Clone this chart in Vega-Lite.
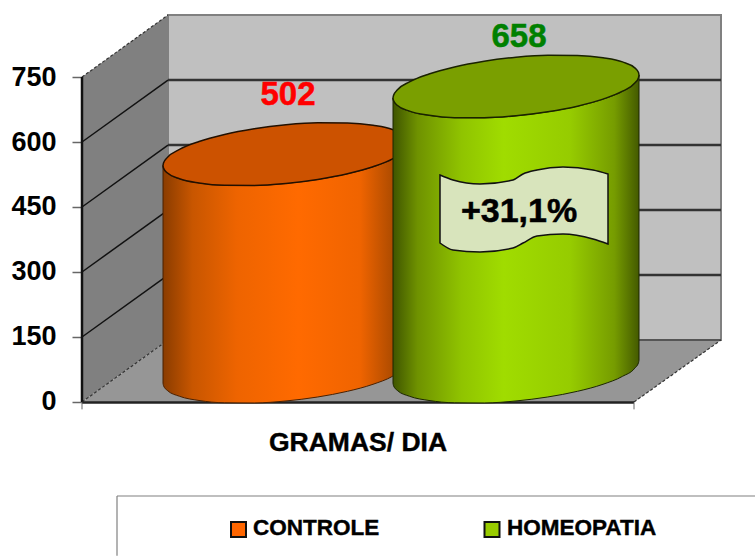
{"$schema":"https://vega.github.io/schema/vega-lite/v6.json","width":673,"height":556,"autosize":{"type":"none"},"padding":{"left":82,"top":0,"right":0,"bottom":0},"background":"white","config":{"view":{"stroke":null},"axis":{"grid":false}},
"datasets":{
"controle":[{"x":163,"up":545.5,"low":545.5,"bot":43.5},{"x":163.5,"up":551.5,"low":539.7,"bot":37.7},{"x":167.2,"up":563.9,"low":528.9,"bot":26.9},{"x":179.5,"up":582.8,"low":515.2,"bot":13.2},{"x":199,"up":601.1,"low":505.5,"bot":3.5},{"x":224.5,"up":617.3,"low":500.2,"bot":-1.8},{"x":254.2,"up":630.4,"low":499.8,"bot":-2.2},{"x":286,"up":639.6,"low":504.4,"bot":2.4},{"x":317.8,"up":644.2,"low":513.6,"bot":11.6},{"x":347.5,"up":643.8,"low":526.7,"bot":24.7},{"x":373,"up":638.5,"low":542.9,"bot":40.9},{"x":392.5,"up":628.8,"low":561.2,"bot":59.2},{"x":404.8,"up":615.1,"low":580.1,"bot":78.1},{"x":408.5,"up":604.3,"low":592.5,"bot":90.5},{"x":409,"up":598.5,"low":598.5,"bot":96.5}],
"homeopatia":[{"x":393,"up":701.5,"low":701.5,"bot":43.5},{"x":393.5,"up":707.5,"low":695.7,"bot":37.7},{"x":397.2,"up":719.9,"low":684.9,"bot":26.9},{"x":409.5,"up":738.8,"low":671.2,"bot":13.2},{"x":429,"up":757.1,"low":661.5,"bot":3.5},{"x":454.5,"up":773.3,"low":656.2,"bot":-1.8},{"x":484.2,"up":786.4,"low":655.8,"bot":-2.2},{"x":516,"up":795.6,"low":660.4,"bot":2.4},{"x":547.8,"up":800.2,"low":669.6,"bot":11.6},{"x":577.5,"up":799.8,"low":682.7,"bot":24.7},{"x":603,"up":794.5,"low":698.9,"bot":40.9},{"x":622.5,"up":784.8,"low":717.2,"bot":59.2},{"x":634.8,"up":771.1,"low":736.1,"bot":78.1},{"x":638.5,"up":760.3,"low":748.5,"bot":90.5},{"x":639,"up":754.5,"low":754.5,"bot":96.5}],
"banner":[{"x":440,"up":523.8,"low":366.9},{"x":453,"up":512.3,"low":350.8},{"x":480,"up":503.1,"low":346.2},{"x":513,"up":512.3,"low":355.4},{"x":523,"up":526.2,"low":366.9},{"x":537,"up":535.4,"low":383.1},{"x":563,"up":542.3,"low":387.7},{"x":593,"up":535.4,"low":376.2},{"x":608,"up":526.2,"low":364.6}],
"diag":[{"g":"a","x":82,"v":150},{"g":"a","x":168,"v":293},{"g":"b","x":82,"v":300},{"g":"b","x":168,"v":443},{"g":"c","x":82,"v":450},{"g":"c","x":168,"v":593},{"g":"d","x":82,"v":600},{"g":"d","x":168,"v":743}],
"edges":[{"g":"a","x":82,"v":0},{"g":"a","x":168,"v":143},{"g":"b","x":82,"v":750},{"g":"b","x":168,"v":893},{"g":"c","x":634,"v":0},{"g":"c","x":721,"v":143}],
"back":[{"g":"a","x":168,"v":293},{"g":"a","x":721,"v":293},{"g":"b","x":168,"v":443},{"g":"b","x":721,"v":443},{"g":"c","x":168,"v":593},{"g":"c","x":721,"v":593},{"g":"d","x":168,"v":743},{"g":"d","x":721,"v":743}],
"backfloor":[{"g":"f","x":168,"v":143},{"g":"f","x":721,"v":143}],
"floor":[{"x":82,"v":0,"v2":0},{"x":168,"v":143,"v2":0},{"x":634,"v":143,"v2":0},{"x":721,"v":143,"v2":143}],
"leftwall":[{"x":82,"v":0,"v2":750},{"x":168,"v":143,"v2":893}],
"wall":[{"x":168,"x2":721,"v":143,"v2":893}],
"frame":[{"g":"top","i":1,"x":117,"v":-216.9},{"g":"top","i":2,"x":755,"v":-216.9},{"g":"left","i":1,"x":117,"v":-216.9},{"g":"left","i":2,"x":117,"v":-355}],
"axisline":[{"g":"y","x":82,"v":0},{"g":"y","x":82,"v":750}],
"baseline":[{"g":"b","x":82,"v":-1},{"g":"b","x":634,"v":-1}],
"xticks":[{"g":"l","x":82,"v":-1},{"g":"l","x":82,"v":-17},{"g":"r","x":634,"v":-1},{"g":"r","x":634,"v":-17}],
"swatch":[{"x":231,"x2":246,"v":-276.9,"v2":-311.5,"c":"#ff6600"},{"x":484.5,"x2":499.5,"v":-276.9,"v2":-311.5,"c":"#99cc00"}]
},
"encoding":{"x":{"field":"x","type":"quantitative","scale":{"domain":[82,755],"nice":false,"zero":false},"axis":null},"y":{"field":"v","type":"quantitative","scale":{"domain":[-355.4,927.7],"nice":false,"zero":false},"axis":{"values":[0,150,300,450,600,750],"title":null,"domain":false,"grid":false,"tickSize":10,"tickColor":"#666666","tickWidth":1.5,"labelFont":"Liberation Sans","labelFontWeight":"bold","labelFontSize":27,"labelColor":"black","labelPadding":16}}},
"layer":[
{"data":{"name":"wall"},"mark":{"type":"rect","fill":"#c0c0c0","stroke":"#808080","strokeWidth":2},"encoding":{"x2":{"field":"x2"},"y2":{"field":"v2"}}},
{"data":{"name":"leftwall"},"mark":{"type":"area","fill":"#808080"},"encoding":{"y2":{"field":"v2"}}},
{"data":{"name":"floor"},"mark":{"type":"area","fill":"#969696"},"encoding":{"y2":{"field":"v2"}}},
{"data":{"name":"back"},"mark":{"type":"line","stroke":"#333333","strokeWidth":2.5},"encoding":{"detail":{"field":"g"}}},
{"data":{"name":"backfloor"},"mark":{"type":"line","stroke":"#555555","strokeWidth":2},"encoding":{"detail":{"field":"g"}}},
{"data":{"name":"diag"},"mark":{"type":"line","stroke":"#111111","strokeWidth":1.5},"encoding":{"detail":{"field":"g"}}},
{"data":{"name":"edges"},"mark":{"type":"line","stroke":"#333333","strokeWidth":1.2,"strokeDash":[3,2]},"encoding":{"detail":{"field":"g"}}},
{"data":{"name":"axisline"},"mark":{"type":"line","stroke":"#111111","strokeWidth":2.5},"encoding":{"detail":{"field":"g"}}},
{"data":{"name":"baseline"},"mark":{"type":"line","stroke":"#222222","strokeWidth":2.5},"encoding":{"detail":{"field":"g"}}},
{"data":{"name":"xticks"},"mark":{"type":"line","stroke":"#666666","strokeWidth":1},"encoding":{"detail":{"field":"g"}}},
{"data":{"name":"controle"},"mark":{"type":"area","interpolate":"monotone","stroke":"#4a2000","strokeWidth":1,"fill":{"gradient":"linear","x1":0,"y1":0,"x2":1,"y2":0,"stops":[{"offset":0,"color":"#8a3c00"},{"offset":0.12,"color":"#c85600"},{"offset":0.3,"color":"#ee6400"},{"offset":0.55,"color":"#ff6a00"},{"offset":0.8,"color":"#f06400"},{"offset":0.93,"color":"#b04c00"},{"offset":1,"color":"#7a3400"}]}},"encoding":{"y":{"field":"low","type":"quantitative"},"y2":{"field":"bot"}}},
{"data":{"name":"controle"},"mark":{"type":"area","interpolate":"monotone","fill":"#cc5200","stroke":"#221000","strokeWidth":1.5},"encoding":{"y":{"field":"up","type":"quantitative"},"y2":{"field":"low"}}},
{"data":{"name":"homeopatia"},"mark":{"type":"area","interpolate":"monotone","stroke":"#1c2600","strokeWidth":1,"fill":{"gradient":"linear","x1":0,"y1":0,"x2":1,"y2":0,"stops":[{"offset":0,"color":"#3f5500"},{"offset":0.1,"color":"#6f9200"},{"offset":0.28,"color":"#90c400"},{"offset":0.45,"color":"#a0dc00"},{"offset":0.72,"color":"#96cc00"},{"offset":0.9,"color":"#769c00"},{"offset":1,"color":"#445a00"}]}},"encoding":{"y":{"field":"low","type":"quantitative"},"y2":{"field":"bot"}}},
{"data":{"name":"homeopatia"},"mark":{"type":"area","interpolate":"monotone","fill":"#7a9f00","stroke":"#1a2200","strokeWidth":1.5},"encoding":{"y":{"field":"up","type":"quantitative"},"y2":{"field":"low"}}},
{"data":{"name":"banner"},"mark":{"type":"area","interpolate":"monotone","fill":"#d8e4bc","stroke":"#111111","strokeWidth":1.5},"encoding":{"y":{"field":"up","type":"quantitative"},"y2":{"field":"low"}}},
{"data":{"name":"frame"},"mark":{"type":"line","stroke":"#808080","strokeWidth":1.2},"encoding":{"detail":{"field":"g"},"order":{"field":"i"}}},
{"data":{"name":"swatch"},"mark":{"type":"rect","stroke":"#111111","strokeWidth":2},"encoding":{"x2":{"field":"x2"},"y2":{"field":"v2"},"fill":{"field":"c","type":"nominal","scale":null}}},
{"data":{"values":[{"x":288,"v":708.5,"t":"502"}]},"mark":{"type":"text","font":"Liberation Sans","fontWeight":"bold","fontSize":33,"fill":"#ff0000","stroke":"#ff0000","strokeWidth":0.5,"align":"center","baseline":"middle"},"encoding":{"text":{"field":"t"}}},
{"data":{"values":[{"x":519,"v":842.3,"t":"658"}]},"mark":{"type":"text","font":"Liberation Sans","fontWeight":"bold","fontSize":33,"fill":"#008000","stroke":"#008000","strokeWidth":0.5,"align":"center","baseline":"middle"},"encoding":{"text":{"field":"t"}}},
{"data":{"values":[{"x":519,"v":438.5,"t":"+31,1%"}]},"mark":{"type":"text","font":"Liberation Sans","fontWeight":"bold","fontSize":34,"fill":"black","stroke":"black","strokeWidth":0.5,"align":"center","baseline":"middle"},"encoding":{"text":{"field":"t"}}},
{"data":{"values":[{"x":358,"v":-94.6,"t":"GRAMAS/ DIA"}]},"mark":{"type":"text","font":"Liberation Sans","fontWeight":"bold","fontSize":26.5,"fill":"black","stroke":"black","strokeWidth":0.4,"align":"center","baseline":"middle"},"encoding":{"text":{"field":"t"}}},
{"data":{"values":[{"x":253,"v":-290.8,"t":"CONTROLE"},{"x":507,"v":-290.8,"t":"HOMEOPATIA"}]},"mark":{"type":"text","font":"Liberation Sans","fontWeight":"bold","fontSize":22.5,"fill":"black","stroke":"black","strokeWidth":0.4,"align":"left","baseline":"middle"},"encoding":{"text":{"field":"t"}}}
]}
